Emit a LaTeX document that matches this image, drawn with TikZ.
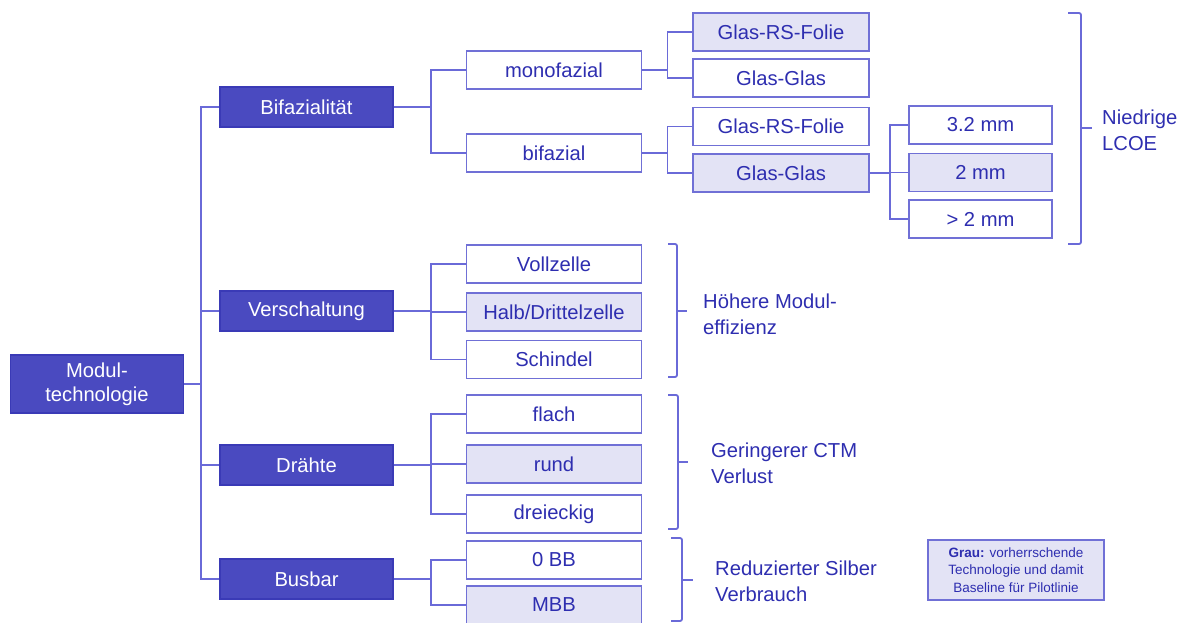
\documentclass[tikz,border=0pt]{standalone}
\usepackage{fontspec}
\setmainfont{Liberation Sans}
\usepackage{xcolor}
\usepackage{tikz}
\usetikzlibrary{positioning}
\definecolor{catfill}{RGB}{74,74,192}
\definecolor{catline}{RGB}{58,58,182}
\definecolor{boxline}{RGB}{112,112,214}
\definecolor{basefill}{RGB}{227,227,245}
\definecolor{linkcol}{RGB}{106,106,216}
\definecolor{txtblue}{RGB}{46,46,176}

\begin{document}
\begin{tikzpicture}[x=1pt,y=-1pt,
  every node/.style={font=\fontsize{20.2}{26}\selectfont,text=txtblue},
  catbox/.style={draw=catline,fill=catfill,text=white,line width=1.4pt,minimum width=173pt,minimum height=40pt,inner sep=0pt},
  optbox/.style={draw=boxline,fill=white,line width=1.8pt,minimum width=175pt,minimum height=38pt,inner sep=0pt},
  basebox/.style={optbox,fill=basefill},
  link/.style={draw=linkcol,line width=1.8pt},
  brace/.style={draw=linkcol,line width=1.8pt,rounded corners=2pt},
  note/.style={anchor=west,align=left,inner sep=0pt}]
\useasboundingbox (0,0) rectangle (1187,623);

% root and categories
\node[catbox,minimum height=58pt,align=center,font=\fontsize{20.2}{24}\selectfont] (root) at (97,384) {Modul-\\technologie};
\node[catbox] (bifa) at (306.5,107) {Bifazialität};
\node[catbox] (versch) at (306.5,311) {Verschaltung};
\node[catbox] (draehte) at (306.5,465) {Drähte};
\node[catbox] (busbar) at (306.5,579) {Busbar};

% options
\node[optbox] (mono) at (554,70) {monofazial};
\node[optbox] (bifaz) at (554,153) {bifazial};
\node[optbox] (voll) at (554,264) {Vollzelle};
\node[basebox] (halb) at (554,312) {Halb/Drittelzelle};
\node[optbox] (schindel) at (554,359.5) {Schindel};
\node[optbox] (flach) at (554,414) {flach};
\node[basebox] (rund) at (554,464) {rund};
\node[optbox] (dreieck) at (554,514) {dreieckig};
\node[optbox] (zerobb) at (554,560) {0 BB};
\node[basebox] (mbb) at (554,605) {MBB};

% glass variants
\node[basebox,minimum width=176pt] (monofolie) at (781,32) {Glas-RS-Folie};
\node[optbox,minimum width=176pt] (monoglas) at (781,78) {Glas-Glas};
\node[optbox,minimum width=176pt] (bifolie) at (781,126.5) {Glas-RS-Folie};
\node[basebox,minimum width=176pt] (biglas) at (781,173) {Glas-Glas};

% glass thickness
\node[optbox,minimum width=143pt] (dick) at (980.5,125) {3.2 mm};
\node[basebox,minimum width=143pt] (zwei) at (980.5,172.5) {2 mm};
\node[optbox,minimum width=143pt] (duenn) at (980.5,219) {> 2 mm};

% connectors
\draw[link] (root.east) -- ++(17,0) coordinate (trunk);
\draw[link] (trunk) |- (bifa.west);
\draw[link] (trunk) |- (versch.west);
\draw[link] (trunk) |- (draehte.west);
\draw[link] (trunk) |- (busbar.west);
\draw[link] (bifa.east) -- ++(37,0) coordinate (jbifa);
\draw[link] (jbifa) |- (mono.west);
\draw[link] (jbifa) |- (bifaz.west);
\draw[link] (versch.east) -- ++(37,0) coordinate (jversch);
\draw[link] (jversch) |- (voll.west);
\draw[link] (jversch) |- (halb.west);
\draw[link] (jversch) |- (schindel.west);
\draw[link] (draehte.east) -- ++(37,0) coordinate (jdraehte);
\draw[link] (jdraehte) |- (flach.west);
\draw[link] (jdraehte) |- (rund.west);
\draw[link] (jdraehte) |- (dreieck.west);
\draw[link] (busbar.east) -- ++(37,0) coordinate (jbusbar);
\draw[link] (jbusbar) |- (zerobb.west);
\draw[link] (jbusbar) |- (mbb.west);
\draw[link] (mono.east) -- ++(25,0) coordinate (jmono);
\draw[link] (jmono) |- (monofolie.west);
\draw[link] (jmono) |- (monoglas.west);
\draw[link] (bifaz.east) -- ++(25,0) coordinate (jbifaz);
\draw[link] (jbifaz) |- (bifolie.west);
\draw[link] (jbifaz) |- (biglas.west);
\draw[link] (biglas.east) -- ++(20,0) coordinate (jglas);
\draw[link] (jglas) |- (dick.west);
\draw[link] (jglas) |- (zwei.west);
\draw[link] (jglas) |- (duenn.west);

% brackets
\draw[brace] (1068,13) -- (1081,13) -- (1081,244) -- (1068,244);
\draw[link] (1081,128) -- (1092,128);
\draw[brace] (668,244) -- (677,244) -- (677,377) -- (668,377);
\draw[link] (677,311) -- (687,311);
\draw[brace] (668,395) -- (678,395) -- (678,529) -- (668,529);
\draw[link] (678,462) -- (688,462);
\draw[brace] (671,538) -- (682,538) -- (682,621) -- (671,621);
\draw[link] (682,580) -- (693,580);

% effects
\node[note] (lcoe) at (1102,130) {Niedrige\\LCOE};
\node[note] (effizienz) at (703,314) {Höhere Modul-\\effizienz};
\node[note] (ctm) at (711,463) {Geringerer CTM\\Verlust};
\node[note] (silber) at (715,581) {Reduzierter Silber\\Verbrauch};

% legend
\node[draw=boxline,fill=basefill,line width=1.8pt,minimum width=176pt,minimum height=60pt,align=center,inner sep=0pt,
  font=\fontsize{13.5}{17.5}\selectfont] (legende) at (1016,570) {\textbf{Grau:} vorherrschende\\Technologie und damit\\Baseline für Pilotlinie};
\end{tikzpicture}
\end{document}
